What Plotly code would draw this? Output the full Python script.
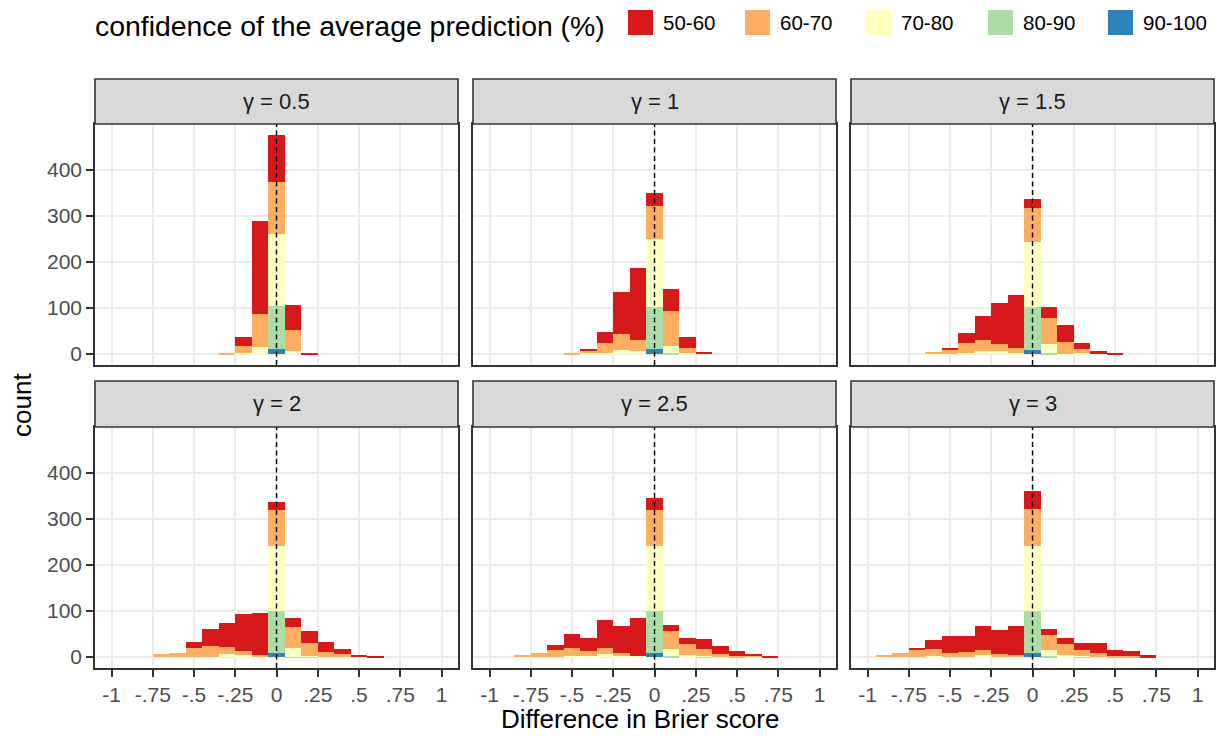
import plotly.graph_objects as go
from plotly.subplots import make_subplots

# ---------------- data ----------------
bin_centers = [-0.9, -0.8, -0.7, -0.6, -0.5, -0.4, -0.3, -0.2, -0.1, 0.0,
               0.1, 0.2, 0.3, 0.4, 0.5, 0.6, 0.7]
categories = ["50-60", "60-70", "70-80", "80-90", "90-100"]
colors = ["#D7191C", "#FDAE61", "#FFFFBF", "#ABDDA4", "#2B83BA"]
gamma_labels = ["γ = 0.5", "γ = 1", "γ = 1.5", "γ = 2", "γ = 2.5", "γ = 3"]

#                 -.9 -.8 -.7 -.6 -.5 -.4 -.3 -.2  -.1   0  .1  .2  .3  .4  .5  .6  .7
g05_c50 =        [0,  0,  0,  0,  0,  0,  0,  20, 200, 102, 54,  2,  0,  0,  0,  0,  0]
g05_c60 =        [0,  0,  0,  0,  0,  0,  2,  15,  72, 113, 46,  0,  0,  0,  0,  0,  0]
g05_c70 =        [0,  0,  0,  0,  0,  0,  0,   3,  16, 156,  7,  0,  0,  0,  0,  0,  0]
g05_c80 =        [0,  0,  0,  0,  0,  0,  0,   0,   0,  95,  0,  0,  0,  0,  0,  0,  0]
g05_c90 =        [0,  0,  0,  0,  0,  0,  0,   0,   0,  10,  0,  0,  0,  0,  0,  0,  0]

g1_c50 =         [0,  0,  0,  0,  0,  3, 24,  91, 156,  28, 48, 24,  5,  0,  0,  0,  0]
g1_c60 =         [0,  0,  0,  0,  2,  6, 22,  35,  24,  72, 76, 11,  0,  0,  0,  0,  0]
g1_c70 =         [0,  0,  0,  0,  0,  2,  2,   9,   7, 146, 16,  3,  0,  0,  0,  0,  0]
g1_c80 =         [0,  0,  0,  0,  0,  0,  0,   0,   0,  93,  2,  0,  0,  0,  0,  0,  0]
g1_c90 =         [0,  0,  0,  0,  0,  0,  0,   0,   0,  10,  0,  0,  0,  0,  0,  0,  0]

g15_c50 =        [0,  0,  0,  0,  4, 22, 52,  89, 115,  20, 24, 37, 15,  7,  2,  0,  0]
g15_c60 =        [0,  0,  0,  2,  9, 20, 24,  15,  11,  74, 57, 26,  7,  0,  0,  0,  0]
g15_c70 =        [0,  0,  0,  2,  1,  3,  7,   7,   3, 141, 20,  1,  3,  0,  0,  0,  0]
g15_c80 =        [0,  0,  0,  0,  0,  0,  0,   0,   0,  93,  2,  0,  0,  0,  0,  0,  0]
g15_c90 =        [0,  0,  0,  0,  0,  0,  0,   0,   0,   9,  0,  0,  0,  0,  0,  0,  0]

g2_c50 =         [0,  0,  0,  0, 13, 37, 52,  80,  92,  17, 20, 26, 20, 11,  5,  2,  0]
g2_c60 =         [0,  0,  5,  8, 20, 22, 15,   9,   2,  78, 46, 28, 11,  6,  0,  0,  0]
g2_c70 =         [0,  0,  1,  1,  0,  1,  7,   4,   2, 141, 18,  2,  1,  1,  0,  0,  0]
g2_c80 =         [0,  0,  0,  0,  0,  0,  0,   0,   0,  91,  1,  1,  0,  0,  0,  0,  0]
g2_c90 =         [0,  0,  0,  0,  0,  0,  0,   0,   0,   9,  0,  0,  0,  0,  0,  0,  0]

g25_c50 =        [0,  0,  0, 11, 30, 28, 61,  59,  83,  26, 13, 13, 22, 19, 11,  2,  2]
g25_c60 =        [0,  4,  9, 15, 17, 11, 13,   4,   0,  78, 39, 24, 15,  5,  2,  3,  0]
g25_c70 =        [0,  1,  0,  0,  2,  2,  7,   4,   2, 141, 15,  4,  2,  1,  0,  1,  0]
g25_c80 =        [0,  0,  0,  0,  0,  0,  0,   0,   0,  91,  2,  0,  1,  0,  0,  0,  0]
g25_c90 =        [0,  0,  0,  0,  0,  0,  0,   0,   0,   9,  0,  0,  0,  0,  0,  0,  0]

g3_c50 =         [0,  0,  1, 20, 37, 33, 52,  52,  63,  39, 13, 13, 15, 22, 13, 11,  4]
g3_c60 =         [2,  9, 17, 15,  9, 11, 11,   4,   2,  80, 33, 24, 13,  9,  2,  2,  0]
g3_c70 =         [1,  0,  0,  2,  0,  1,  4,   2,   2, 141, 13,  4,  2,  0,  0,  0,  0]
g3_c80 =         [0,  0,  0,  0,  0,  0,  0,   0,   0,  91,  2,  0,  1,  0,  0,  0,  0]
g3_c90 =         [0,  0,  0,  0,  0,  0,  0,   0,   0,   9,  0,  0,  0,  0,  0,  0,  0]

panels = [
    [g05_c50, g05_c60, g05_c70, g05_c80, g05_c90],
    [g1_c50, g1_c60, g1_c70, g1_c80, g1_c90],
    [g15_c50, g15_c60, g15_c70, g15_c80, g15_c90],
    [g2_c50, g2_c60, g2_c70, g2_c80, g2_c90],
    [g25_c50, g25_c60, g25_c70, g25_c80, g25_c90],
    [g3_c50, g3_c60, g3_c70, g3_c80, g3_c90],
]

x_tickvals = [-1, -0.75, -0.5, -0.25, 0, 0.25, 0.5, 0.75, 1]
x_ticktext = ["-1", "-.75", "-.5", "-.25", "0", ".25", ".5", ".75", "1"]
y_tickvals = [0, 100, 200, 300, 400]
y_ticktext = ["0", "100", "200", "300", "400"]

# ---------------- layout geometry (window pixels) ----------------
OFF = 8                      # page body margin
W, H = 1224 - OFF, 736 - OFF  # figure size
FONT = "Liberation Sans, Arial, Helvetica, sans-serif"
col_x = [(95, 458), (473, 836), (851, 1214)]
row_strip = [(79, 124), (381, 427)]
row_panel = [(124, 365), (427, 668)]


def px(x):
    return (x - OFF) / W


def py(y):
    return 1 - (y - OFF) / H


fig = make_subplots(rows=2, cols=3)

max_total = 0
for p in panels:
    for k in range(len(bin_centers)):
        max_total = max(max_total, sum(cat[k] for cat in p))
y_range = [-0.05 * max_total, 1.05 * max_total]

shapes = []
annotations = []
for i, p in enumerate(panels):
    r, c = divmod(i, 3)
    # ggplot stacks first level on top: add from last to first
    for ci in reversed(range(len(categories))):
        fig.add_trace(
            go.Bar(x=bin_centers, y=p[ci], width=0.1,
                   marker=dict(color=colors[ci], line=dict(width=0)),
                   name=categories[ci], showlegend=False, hoverinfo="skip"),
            row=r + 1, col=c + 1)
    idx = i + 1
    xa = "xaxis" if idx == 1 else f"xaxis{idx}"
    ya = "yaxis" if idx == 1 else f"yaxis{idx}"
    xref = "x" if idx == 1 else f"x{idx}"
    yref = "y" if idx == 1 else f"y{idx}"
    x0, x1 = col_x[c]
    s0, s1 = row_strip[r]
    p0, p1 = row_panel[r]
    bottom = (r == 1)
    left = (c == 0)
    fig.layout[xa].update(
        domain=[px(x0), px(x1)], range=[-1.1, 1.1], tickvals=x_tickvals, ticktext=x_ticktext,
        showgrid=True, gridcolor="#EBEBEB", gridwidth=1.8, zeroline=False,
        showline=True, linecolor="#333333", linewidth=1.6, mirror=True,
        ticks="outside" if bottom else "", ticklen=7, tickwidth=1.6, tickcolor="#333333",
        showticklabels=bottom, tickfont=dict(family=FONT, size=21, color="#4D4D4D"),
        fixedrange=True)
    fig.layout[ya].update(
        domain=[py(p1), py(p0)], range=y_range, tickvals=y_tickvals, ticktext=y_ticktext,
        showgrid=True, gridcolor="#EBEBEB", gridwidth=1.8, zeroline=False,
        showline=True, linecolor="#333333", linewidth=1.6, mirror=True,
        ticks="outside" if left else "", ticklen=7, tickwidth=1.6, tickcolor="#333333",
        showticklabels=left, tickfont=dict(family=FONT, size=21, color="#4D4D4D"),
        fixedrange=True)
    shapes.append(dict(type="line", xref=xref, yref=f"{yref} domain", x0=0, x1=0, y0=0, y1=1,
                       line=dict(color="black", width=1.4, dash="5px,3.5px"), layer="above"))
    shapes.append(dict(type="rect", xref="paper", yref="paper", x0=px(x0), x1=px(x1),
                       y0=py(s1), y1=py(s0), fillcolor="#D9D9D9",
                       line=dict(color="#333333", width=1.6), layer="above"))
    annotations.append(dict(text=gamma_labels[i], xref="paper", yref="paper",
                            x=px((x0 + x1) / 2), y=py((s0 + s1) / 2), showarrow=False,
                            xanchor="center", yanchor="middle",
                            font=dict(family=FONT, size=22, color="#1A1A1A")))

annotations.append(dict(text="Difference in Brier score", xref="paper", yref="paper",
                        x=px(640), y=py(719), showarrow=False,
                        xanchor="center", yanchor="middle",
                        font=dict(family=FONT, size=26, color="black")))
annotations.append(dict(text="count", xref="paper", yref="paper", textangle=-90,
                        x=px(22), y=py(405), showarrow=False,
                        xanchor="center", yanchor="middle",
                        font=dict(family=FONT, size=26, color="black")))

annotations.append(dict(text="confidence of the average prediction (%)", xref="paper", yref="paper",
                        x=px(94), y=py(8.5), showarrow=False, xanchor="left", yanchor="top",
                        borderpad=0, font=dict(family=FONT, size=28.4, color="black")))
key_x = [628, 745, 866, 988, 1108]
for k, cat in enumerate(categories):
    shapes.append(dict(type="rect", xref="paper", yref="paper", x0=px(key_x[k]), x1=px(key_x[k] + 25),
                       y0=py(35), y1=py(10), fillcolor=colors[k], line=dict(width=0)))
    annotations.append(dict(text=cat, xref="paper", yref="paper", x=px(key_x[k] + 33), y=py(22.5),
                            showarrow=False, xanchor="left", yanchor="middle",
                            font=dict(family=FONT, size=20.5, color="black")))

fig.update_layout(
    width=W, height=H, autosize=False,
    margin=dict(l=0, r=0, t=0, b=0),
    paper_bgcolor="white", plot_bgcolor="white",
    barmode="stack", bargap=0, showlegend=False,
    shapes=shapes, annotations=annotations,
    font=dict(family=FONT),
)

fig.write_html("out.html")
